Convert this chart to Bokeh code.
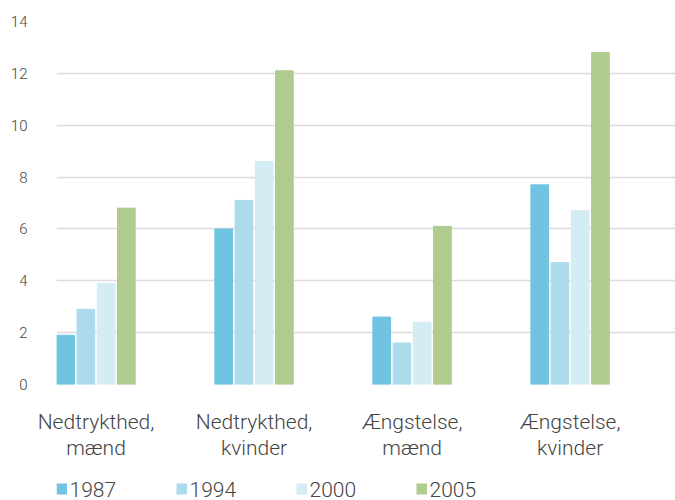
from bokeh.plotting import figure
from bokeh.layouts import column
from bokeh.models import Range1d, FixedTicker
from bokeh.core.properties import value
from bokeh.embed import file_html
from bokeh.resources import INLINE

categories = ["Nedtrykthed,\nmænd", "Nedtrykthed,\nkvinder", "Ængstelse,\nmænd", "Ængstelse,\nkvinder"]
years = ["1987", "1994", "2000", "2005"]
v1987 = [1.9, 6.0, 2.6, 7.7]
v1994 = [2.9, 7.1, 1.6, 4.7]
v2000 = [3.9, 8.6, 2.4, 6.7]
v2005 = [6.8, 12.1, 6.1, 12.8]
y_ticks = [0, 2, 4, 6, 8, 10, 12, 14]

series = [v1987, v1994, v2000, v2005]
colors = ["#70c4e1", "#acdcec", "#d4ecf4", "#afcc8e"]
offsets = [-0.192, -0.064, 0.064, 0.192]
bar_w = 0.112

FONT = "Roboto Light"
TXT = "#444444"
LEFT = 56
W = 675

p = figure(width=W, height=462, output_backend="svg", toolbar_location=None,
           x_range=Range1d(-0.25, 3.667), y_range=Range1d(0, 14),
           min_border_left=LEFT, min_border_right=0, min_border_top=21, min_border_bottom=78)
p.outline_line_color = None
p.background_fill_color = "white"

xs = list(range(len(categories)))
for vals, col, off in zip(series, colors, offsets):
    p.vbar(x=[x + off for x in xs], top=vals, width=bar_w, bottom=0,
           fill_color=col, line_color=col)

# axes
p.yaxis.ticker = FixedTicker(ticks=y_ticks)
p.yaxis.axis_line_color = None
p.yaxis.major_tick_line_color = None
p.yaxis.minor_tick_line_color = None
p.yaxis.major_label_standoff = 23
p.yaxis.major_label_text_font = FONT
p.yaxis.major_label_text_font_size = "15px"
p.yaxis.major_label_text_color = TXT

p.xaxis.ticker = FixedTicker(ticks=xs)
p.xaxis.major_label_overrides = {i: c for i, c in enumerate(categories)}
p.xaxis.axis_line_color = None
p.xaxis.major_tick_line_color = None
p.xaxis.minor_tick_line_color = None
p.xaxis.major_label_standoff = 19
p.xaxis.major_label_text_font = FONT
p.xaxis.major_label_text_font_size = "21px"
p.xaxis.major_label_text_color = TXT
p.xaxis.major_label_text_line_height = 1.1

p.xgrid.grid_line_color = None
p.ygrid.ticker = FixedTicker(ticks=y_ticks)
p.ygrid.grid_line_color = "#dcdcdc"
p.ygrid.grid_line_width = 1.5

# legend strip below the chart; its frame is aligned with the chart frame,
# ranges are in page pixels
LG_H = 38
lg = figure(width=W, height=LG_H, output_backend="svg", toolbar_location=None,
            x_axis_location=None, y_axis_location=None,
            x_range=Range1d(LEFT, W), y_range=Range1d(0, LG_H),
            min_border_left=LEFT, min_border_right=0, min_border_top=0, min_border_bottom=0)
lg.outline_line_color = None
lg.grid.visible = False
item_step, sq = 120, 10.5
sq_x = [LEFT + sq / 2 + i * item_step for i in range(len(years))]
lab_x = [69 + i * item_step for i in range(len(years))]
lg.rect(x=sq_x, y=[11.5] * len(years), width=sq, height=11,
        fill_color=colors, line_color=None)
lg.text(x=lab_x, y=[11] * len(years), text=years, text_font=value(FONT),
        text_font_size="21px", text_color=TXT, text_baseline="middle", text_align="left")

layout = column(p, lg, spacing=0)
open("out.html", "w").write(file_html(layout, INLINE))
